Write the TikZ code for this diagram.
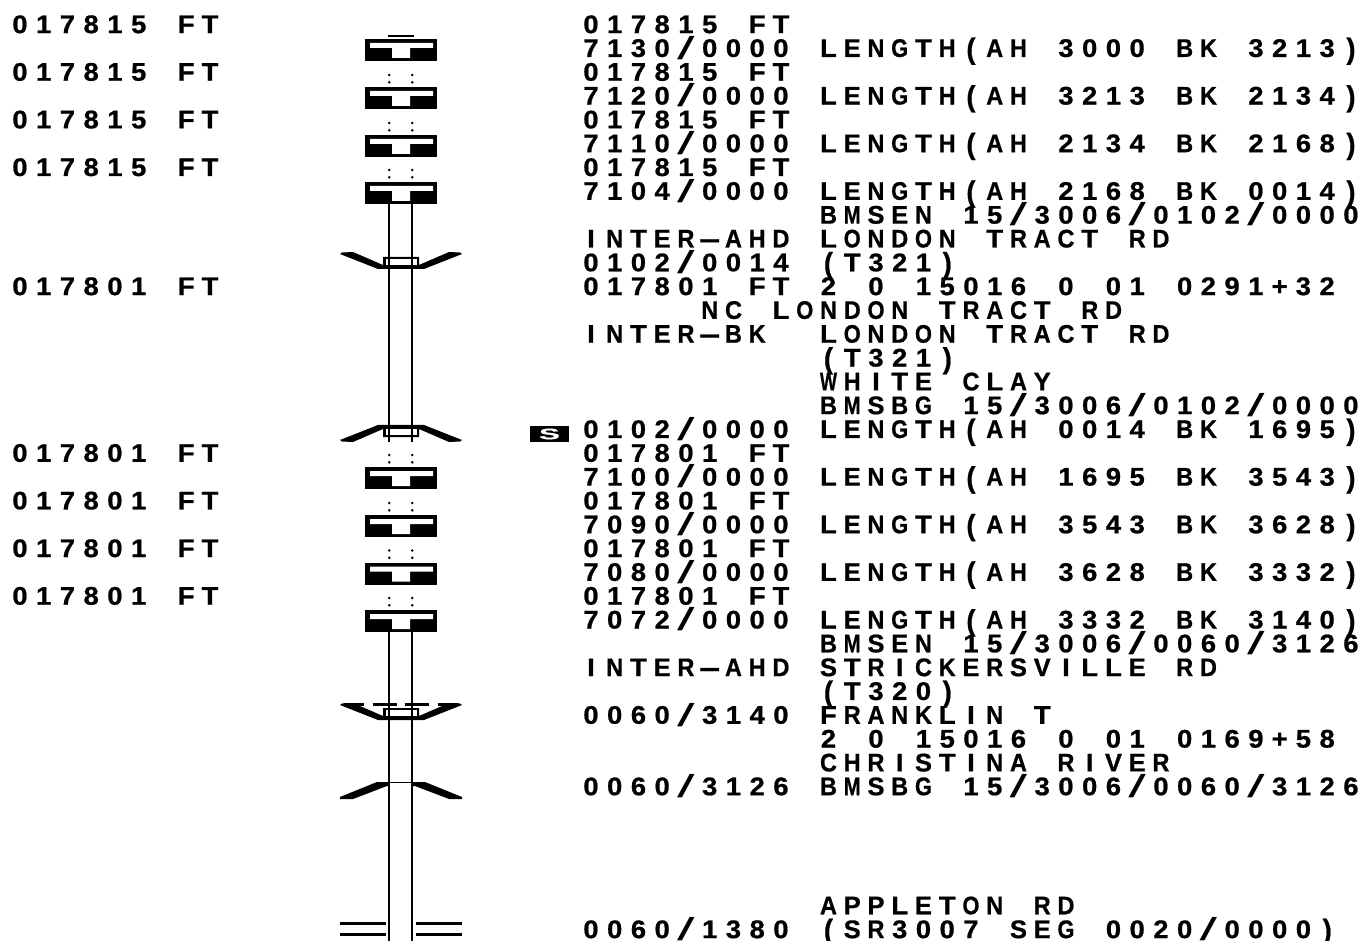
\documentclass[tikz,border=0pt]{standalone}
\usepackage{fontspec}
\setmainfont{Liberation Sans}[BoldFont={Liberation Sans Bold},BoldFeatures={FakeBold=0.7}]
\makeatletter
\def\hyph{-}\def\slsh{/}\def\lpar{(}\def\rpar{)}
\newsavebox\cellbox
\newcommand\plotchars[1]{\scalebox{1}[.93]{\@tfor\x:=#1\do{\hbox to 23.75pt{\hss\plotcell\hss}}}}
\newcommand\plotcell{%
  \ifx\x\hyph\scalebox{2.6}[1]{-}%
  \else\ifx\x\slsh\raisebox{-2.5pt}{\mdseries\scalebox{2.3}[1.25]{/}}%
  \else\ifx\x\lpar\raisebox{-2pt}{\scalebox{1}[1.15]{(}}%
  \else\ifx\x\rpar\raisebox{-2pt}{\scalebox{1}[1.15]{)}}%
  \else
    \sbox\cellbox{\x}%
    \ifdim\wd\cellbox>17pt\resizebox{17pt}{\ht\cellbox}{\x}\else\x\fi
  \fi\fi\fi\fi}
\makeatother
\newcommand\rowtext[4]{\node[plotlabel] (#1) at (#2,{24+23.816*#3+9.1}) {\plotchars{#4}};}
\newcommand\girder[1]{%
  \fill[black] (365,#1) rectangle (437,#1+22);
  \fill[white] (370,#1+4) -- (433,#1+4) -- (433,#1+9) -- (410,#1+9) -- (410,#1+19) -- (392,#1+19) -- (392,#1+9) -- (370,#1+9) -- cycle;
  \relax}
\newcommand\gdots[1]{%
  \foreach \dy in {-12,-4.7}{\fill[black] (389.3,#1+\dy) circle (1.4) (412.3,#1+\dy) circle (1.4);}\relax}
\newcommand\wingbox{%
  \fill[black] (340,2) -- (342,0.5) -- (353,0) -- (383,13) -- (383,5) -- (419,5) -- (419,13) -- (449,0) -- (460,0.5) -- (462,2) -- (424,17) -- (378,17) -- cycle;
  \fill[white] (385.5,7) rectangle (416.5,13);}
\tikzset{
  plotlabel/.style={anchor=base west,inner sep=0pt,outer sep=0pt,font=\fontsize{27.4}{27.4}\selectfont\bfseries,text=black},
  stemline/.style={draw=black,line width=2.2pt},
  roadline/.style={draw=black,line width=3pt},
}
\begin{document}
\begin{tikzpicture}[x=1pt,y=-1pt]
\useasboundingbox (0,0) rectangle (1361,941);
\fill[white] (0,0) rectangle (1361,941);
% wings
\begin{scope}[shift={(0,252)}]\wingbox\end{scope}
\begin{scope}[shift={(0,442)},yscale=-1]\wingbox\end{scope}
\begin{scope}[shift={(0,703)}]\wingbox\end{scope}
\draw[roadline] (344,704) -- (364,704) (373,704) -- (397,704) (405,704) -- (429,704) (438,704) -- (458,704);
\fill[black] (340,797) -- (377,782) -- (425,782) -- (462,797) -- (462,799) -- (449,799) -- (415,786) -- (387,786) -- (353,799) -- (340,799) -- cycle;
\fill[white] (390.3,783.2) rectangle (411.3,787);
% stems
\foreach \sx in {389.3,412.3}{
  \draw[stemline] (\sx,204) -- (\sx,442);
  \draw[stemline] (\sx,632) -- (\sx,941);
}
% bridges
\draw[black,line width=2.5pt] (388,36) -- (414,36);
\girder{39}
\girder{87}
\girder{135}
\girder{182}
\girder{467}
\girder{515}
\girder{562.5}
\girder{610}
\gdots{87}
\gdots{135}
\gdots{182}
\gdots{467}
\gdots{515}
\gdots{562.5}
\gdots{610}
% road
\draw[roadline] (340,923) -- (386,923) (416,923) -- (462,923) (340,934) -- (386,934) (416,934) -- (462,934);
% S marker
\node[fill=black,minimum width=39pt,minimum height=16pt,inner sep=0pt,text=white,font=\bfseries\fontsize{27}{27}\selectfont] (smark) at (549.5,434) {\scalebox{1.15}[.56]{S}};
% left column
\rowtext{la}{8.1}{0}{017815~FT}
\rowtext{lb}{8.1}{2}{017815~FT}
\rowtext{lc}{8.1}{4}{017815~FT}
\rowtext{ld}{8.1}{6}{017815~FT}
\rowtext{le}{8.1}{11}{017801~FT}
\rowtext{lf}{8.1}{18}{017801~FT}
\rowtext{lg}{8.1}{20}{017801~FT}
\rowtext{lh}{8.1}{22}{017801~FT}
\rowtext{li}{8.1}{24}{017801~FT}
% right column
\rowtext{r0}{579.1}{0}{017815~FT}
\rowtext{r1}{579.1}{1}{7130/0000~LENGTH(AH~3000~BK~3213)}
\rowtext{r2}{579.1}{2}{017815~FT}
\rowtext{r3}{579.1}{3}{7120/0000~LENGTH(AH~3213~BK~2134)}
\rowtext{r4}{579.1}{4}{017815~FT}
\rowtext{r5}{579.1}{5}{7110/0000~LENGTH(AH~2134~BK~2168)}
\rowtext{r6}{579.1}{6}{017815~FT}
\rowtext{r7}{579.1}{7}{7104/0000~LENGTH(AH~2168~BK~0014)}
\rowtext{r8}{816.6}{8}{BMSEN~15/3006/0102/0000}
\rowtext{r9}{579.1}{9}{INTER-AHD~LONDON~TRACT~RD}
\rowtext{r10}{579.1}{10}{0102/0014~(T321)}
\rowtext{r11}{579.1}{11}{017801~FT~2~0~15016~0~01~0291+32}
\rowtext{r12}{697.9}{12}{NC~LONDON~TRACT~RD}
\rowtext{r13}{579.1}{13}{INTER-BK~~LONDON~TRACT~RD}
\rowtext{r14}{816.6}{14}{(T321)}
\rowtext{r15}{816.6}{15}{WHITE~CLAY}
\rowtext{r16}{816.6}{16}{BMSBG~15/3006/0102/0000}
\rowtext{r17}{579.1}{17}{0102/0000~LENGTH(AH~0014~BK~1695)}
\rowtext{r18}{579.1}{18}{017801~FT}
\rowtext{r19}{579.1}{19}{7100/0000~LENGTH(AH~1695~BK~3543)}
\rowtext{r20}{579.1}{20}{017801~FT}
\rowtext{r21}{579.1}{21}{7090/0000~LENGTH(AH~3543~BK~3628)}
\rowtext{r22}{579.1}{22}{017801~FT}
\rowtext{r23}{579.1}{23}{7080/0000~LENGTH(AH~3628~BK~3332)}
\rowtext{r24}{579.1}{24}{017801~FT}
\rowtext{r25}{579.1}{25}{7072/0000~LENGTH(AH~3332~BK~3140)}
\rowtext{r26}{816.6}{26}{BMSEN~15/3006/0060/3126}
\rowtext{r27}{579.1}{27}{INTER-AHD~STRICKERSVILLE~RD}
\rowtext{r28}{816.6}{28}{(T320)}
\rowtext{r29}{579.1}{29}{0060/3140~FRANKLIN~T}
\rowtext{r30}{816.6}{30}{2~0~15016~0~01~0169+58}
\rowtext{r31}{816.6}{31}{CHRISTINA~RIVER}
\rowtext{r32}{579.1}{32}{0060/3126~BMSBG~15/3006/0060/3126}
\rowtext{r37}{816.6}{37}{APPLETON~RD}
\rowtext{r38}{579.1}{38}{0060/1380~(SR3007~SEG~0020/0000)}
\end{tikzpicture}
\end{document}
